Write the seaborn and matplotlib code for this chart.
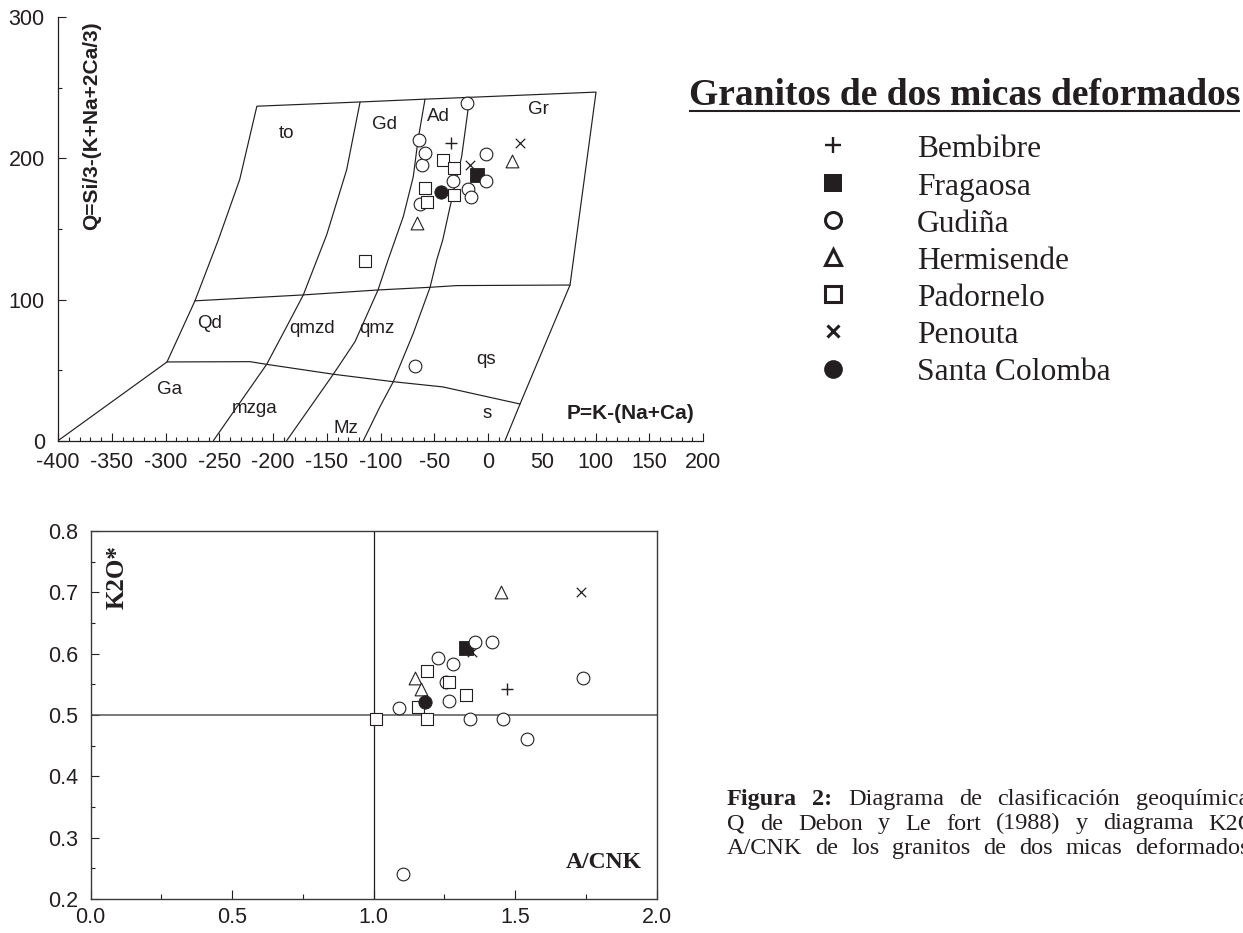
import matplotlib
matplotlib.use("Agg")
import matplotlib.pyplot as plt
import numpy as np
import pandas as pd
import seaborn as sns
from matplotlib.ticker import MultipleLocator, FormatStrFormatter

# ---------------------------------------------------------------------------
# P-Q classification diagram (Debon & Le Fort): field boundaries
# ---------------------------------------------------------------------------
frame_P = [-400, -298.6, -272.6, -251, -231, -215, -119, -58.6, -17, 100.5, 76.3, 29.8, 15.8]
frame_Q = [0, 55.8, 99.1, 142, 185, 237, 240.0, 242.0, 243.3, 247, 110.3, 26.0, 0]

line_a_P = [-119, -131.5, -150, -171.8, -187.3, -205.9, -255.5]
line_a_Q = [240.0, 191.9, 146, 103.3, 80.8, 54.1, 0]

line_b_P = [-58.6, -65.1, -69.5, -78.8, -93.0, -102.3, -123.7, -143.9, -187.3]
line_b_Q = [242.0, 213.1, 187.1, 158.8, 128.0, 106.8, 70.2, 47.1, 0]

line_c_P = [-17, -24.5, -35.3, -42.1, -47.7, -53.9, -69.5, -88.1, -100.5, -116.0]
line_c_Q = [243.3, 201.3, 165.8, 142.2, 128.1, 108.7, 76.1, 41.8, 24.1, 0]

mid_P = [-272.6, -171.8, -102.3, -53.9, -29.1, 76.3]
mid_Q = [99.1, 103.3, 106.8, 108.7, 109.9, 110.3]

low_P = [-298.6, -221.4, -205.9, -143.9, -88.1, -41.9, 29.8]
low_Q = [55.8, 56.0, 54.1, 47.1, 41.8, 38.1, 26.0]

field_names = ["to", "Gd", "Ad", "Gr", "Qd", "qmzd", "qmz", "qs", "Ga", "mzga", "Mz", "s"]
field_P = [-187, -96, -46, 47, -259, -164, -103.5, -2, -296.5, -216.7, -132, -1]
field_Q = [218, 224, 229.6, 235, 83.2, 79.2, 79.2, 57.7, 36.4, 23.0, 8.8, 19.4]

# ---------------------------------------------------------------------------
# Samples: P-Q values
# ---------------------------------------------------------------------------
bembibre_P = [-34]
bembibre_Q = [211]
fragaosa_P = [-10]
fragaosa_Q = [188]
gudina_P = [-61, -59, -64, -20, -2, -2, -63, -33, -19, -16, -68]
gudina_Q = [195, 204, 213, 239, 203, 184, 168, 184, 178, 173, 53]
hermisende_P = [22, -66]
hermisende_Q = [198, 154]
padornelo_P = [-42, -32, -59, -57, -32, -114]
padornelo_Q = [199, 193, 179, 169, 174, 127]
penouta_P = [-17, 30]
penouta_Q = [195, 211]
santa_colomba_P = [-44]
santa_colomba_Q = [176]

# Samples: K2O* versus A/CNK
bembibre_acnk = [1.472]
bembibre_k2o = [0.542]
fragaosa_acnk = [1.326]
fragaosa_k2o = [0.610]
gudina_acnk = [1.358, 1.419, 1.228, 1.281, 1.255, 1.267, 1.090, 1.340, 1.456, 1.541, 1.739, 1.102]
gudina_k2o = [0.619, 0.619, 0.593, 0.583, 0.553, 0.523, 0.512, 0.493, 0.493, 0.461, 0.561, 0.240]
hermisende_acnk = [1.450, 1.146, 1.166]
hermisende_k2o = [0.701, 0.560, 0.542]
padornelo_acnk = [1.189, 1.267, 1.326, 1.155, 1.008, 1.189]
padornelo_k2o = [0.572, 0.553, 0.533, 0.513, 0.493, 0.493]
penouta_acnk = [1.733, 1.346]
penouta_k2o = [0.701, 0.603]
santa_colomba_acnk = [1.181]
santa_colomba_k2o = [0.522]

groups = ["Bembibre", "Fragaosa", "Gudiña", "Hermisende", "Padornelo", "Penouta", "Santa Colomba"]

pq = {
    "Bembibre": (bembibre_P, bembibre_Q),
    "Fragaosa": (fragaosa_P, fragaosa_Q),
    "Gudiña": (gudina_P, gudina_Q),
    "Hermisende": (hermisende_P, hermisende_Q),
    "Padornelo": (padornelo_P, padornelo_Q),
    "Penouta": (penouta_P, penouta_Q),
    "Santa Colomba": (santa_colomba_P, santa_colomba_Q),
}
ak = {
    "Bembibre": (bembibre_acnk, bembibre_k2o),
    "Fragaosa": (fragaosa_acnk, fragaosa_k2o),
    "Gudiña": (gudina_acnk, gudina_k2o),
    "Hermisende": (hermisende_acnk, hermisende_k2o),
    "Padornelo": (padornelo_acnk, padornelo_k2o),
    "Penouta": (penouta_acnk, penouta_k2o),
    "Santa Colomba": (santa_colomba_acnk, santa_colomba_k2o),
}

# ---------------------------------------------------------------------------
# Styling
# ---------------------------------------------------------------------------
sns.set_theme(style="white")
SANS = ["Liberation Sans", "DejaVu Sans"]
SERIF = ["Liberation Serif", "DejaVu Serif"]
plt.rcParams["font.family"] = SANS
plt.rcParams["axes.unicode_minus"] = False
INK = "#231f20"

# marker look of each group in the plots
mark = {
    "Bembibre": dict(marker="+", s=74, color=INK, linewidth=1.0),
    "Fragaosa": dict(marker="s", s=88, color=INK, edgecolor=INK, linewidth=0.6),
    "Gudiña": dict(marker="o", s=84, color=INK, facecolor="white", edgecolor=INK, linewidth=0.8),
    "Hermisende": dict(marker="^", s=84, color=INK, facecolor="white", edgecolor=INK, linewidth=0.8),
    "Padornelo": dict(marker="s", s=84, color=INK, facecolor="white", edgecolor=INK, linewidth=0.8),
    "Penouta": dict(marker="x", s=46, color=INK, linewidth=0.9),
    "Santa Colomba": dict(marker="o", s=92, color=INK, edgecolor=INK, linewidth=0.6),
}
draw_order = ["Penouta", "Fragaosa", "Gudiña", "Hermisende", "Padornelo", "Santa Colomba", "Bembibre"]

# marker look of each group in the legend (Line2D style)
legend_mark = {
    "Bembibre": dict(marker="+", ms=12, mew=1.7, color=INK),
    "Fragaosa": dict(marker="s", ms=13, mew=0, color=INK),
    "Gudiña": dict(marker="o", ms=11.5, mew=2.2, mfc="white", mec=INK),
    "Hermisende": dict(marker="^", ms=12, mew=2.2, mfc="white", mec=INK),
    "Padornelo": dict(marker="s", ms=11.5, mew=2.2, mfc="white", mec=INK),
    "Penouta": dict(marker="x", ms=8, mew=2.2, color=INK),
    "Santa Colomba": dict(marker="o", ms=13.5, mew=0, color=INK),
}

W, H = 1243, 933
fig = plt.figure(figsize=(W / 100, H / 100), dpi=100)
fig.patch.set_facecolor("white")


def px_box(x0, y0, x1, y1):
    return [x0 / W, 1 - y1 / H, (x1 - x0) / W, (y1 - y0) / H]


ax1 = fig.add_axes(px_box(58, 17.3, 703, 440.7))
ax2 = fig.add_axes(px_box(90.7, 531, 656.7, 899))

# ---------------------------------------------------------------------------
# Upper panel: P-Q diagram
# ---------------------------------------------------------------------------
for xs, ys in [(frame_P, frame_Q), (line_a_P, line_a_Q), (line_b_P, line_b_Q),
               (line_c_P, line_c_Q), (mid_P, mid_Q), (low_P, low_Q)]:
    sns.lineplot(x=xs, y=ys, sort=False, estimator=None, ax=ax1,
                 color=INK, linewidth=0.85, zorder=2)

for name, p, q in zip(field_names, field_P, field_Q):
    ax1.text(p, q, name, ha="center", va="center", fontsize=13.5, color=INK)

for g in draw_order:
    df = pd.DataFrame({"P": pq[g][0], "Q": pq[g][1]})
    sns.scatterplot(data=df, x="P", y="Q", ax=ax1, zorder=3, legend=False, **mark[g])

ax1.set_xlim(-400, 200)
ax1.set_ylim(0, 300)
ax1.set_xlabel("")
ax1.set_ylabel("")
ax1.xaxis.set_major_locator(MultipleLocator(50))
ax1.xaxis.set_minor_locator(MultipleLocator(10))
ax1.yaxis.set_major_locator(MultipleLocator(100))
ax1.yaxis.set_minor_locator(MultipleLocator(50))
for side in ["top", "right"]:
    ax1.spines[side].set_visible(False)
for side in ["left", "bottom"]:
    ax1.spines[side].set_color(INK)
    ax1.spines[side].set_linewidth(0.9)
ax1.tick_params(axis="both", which="both", direction="in", color=INK, width=0.8,
                labelcolor=INK, labelsize=15.5, bottom=True, left=True,
                top=False, right=False)
ax1.tick_params(axis="x", which="major", length=5.5, pad=8)
ax1.tick_params(axis="x", which="minor", length=3)
ax1.tick_params(axis="y", which="major", length=6, pad=9.5)
ax1.tick_params(axis="y", which="minor", length=3)
ax1.set_facecolor("none")

ax1.text(0.0527, 0.743, "Q=Si/3-(K+Na+2Ca/3)", transform=ax1.transAxes, rotation=90,
         ha="center", va="center", fontsize=15, fontweight="bold", color=INK)
ax1.text(0.887, 0.065, "P=K-(Na+Ca)", transform=ax1.transAxes,
         ha="center", va="center", fontsize=15, fontweight="bold", color=INK)

# ---------------------------------------------------------------------------
# Lower panel: K2O* versus A/CNK
# ---------------------------------------------------------------------------
ax2.axvline(1.0, color=INK, linewidth=0.9, zorder=2)
ax2.axhline(0.5, color="#555555", linewidth=1.1, zorder=2)

for g in draw_order:
    df = pd.DataFrame({"A/CNK": ak[g][0], "K2O": ak[g][1]})
    sns.scatterplot(data=df, x="A/CNK", y="K2O", ax=ax2, zorder=3, legend=False, **mark[g])

ax2.set_xlim(0, 2.0)
ax2.set_ylim(0.2, 0.8)
ax2.set_xlabel("")
ax2.set_ylabel("")
ax2.xaxis.set_major_locator(MultipleLocator(0.5))
ax2.xaxis.set_minor_locator(MultipleLocator(0.25))
ax2.yaxis.set_major_locator(MultipleLocator(0.1))
ax2.yaxis.set_minor_locator(MultipleLocator(0.05))
ax2.xaxis.set_major_formatter(FormatStrFormatter("%.1f"))
ax2.yaxis.set_major_formatter(FormatStrFormatter("%.1f"))
for side in ["top", "right", "left", "bottom"]:
    ax2.spines[side].set_visible(True)
    ax2.spines[side].set_color("#3a3a3a")
    ax2.spines[side].set_linewidth(1.0)
ax2.tick_params(axis="both", which="both", direction="in", color=INK, width=0.8,
                labelcolor=INK, labelsize=15.5, bottom=True, left=True,
                top=False, right=False)
ax2.tick_params(axis="x", which="major", length=6.5, pad=5.5)
ax2.tick_params(axis="x", which="minor", length=3.6)
ax2.tick_params(axis="y", which="major", length=6, pad=9)
ax2.tick_params(axis="y", which="minor", length=3)
ax2.set_facecolor("white")

ax2.text(0.046, 0.876, "K2O*", transform=ax2.transAxes, rotation=90,
         ha="center", va="center", fontsize=18, fontweight="bold", family=SERIF, color=INK)
ax2.text(0.907, 0.099, "A/CNK", transform=ax2.transAxes,
         ha="center", va="center", fontsize=17, fontweight="bold", family=SERIF, color=INK)

# ---------------------------------------------------------------------------
# Title, legend and caption on a pixel-based overlay
# ---------------------------------------------------------------------------
ov = fig.add_axes([0, 0, 1, 1])
ov.set_xlim(0, W)
ov.set_ylim(H, 0)
ov.set_axis_off()
renderer = fig.canvas.get_renderer()

title = ov.text(689, 105, "Granitos de dos micas deformados", family=SERIF,
                fontweight="bold", fontsize=27, color=INK, ha="left", va="baseline")
tb = title.get_window_extent(renderer)
ov.plot([tb.x0, tb.x1], [110.8, 110.8], color=INK, linewidth=1.5, solid_capstyle="butt")

row0, row_step = 157.3, 37.2
for i, g in enumerate(groups):
    base = row0 + i * row_step
    ov.plot([833], [base - 12], linestyle="none", **legend_mark[g])
    ov.text(917, base, g, family=SERIF, fontsize=22.7, color=INK, ha="left", va="baseline")

# justified caption, running past the right edge of the sheet
caption_lines = [
    [("Figura", True), ("2:", True), ("Diagrama", False), ("de", False),
     ("clasificación", False), ("geoquímica", False)],
    [(w, False) for w in "Q de Debon y Le fort (1988) y diagrama K2O".split()],
    [(w, False) for w in "A/CNK de los granitos de dos micas deformados".split()],
]
cap_left = 727
cap_right = [1249, 1256, 1250]
cap_base, cap_step = 805, 24.5
for li, words in enumerate(caption_lines):
    y = cap_base + li * cap_step
    items = [ov.text(0, y, w, family=SERIF, fontsize=17.5, color=INK,
                     fontweight="bold" if b else "normal", ha="left", va="baseline")
             for w, b in words]
    widths = [t.get_window_extent(renderer).width for t in items]
    gap = (cap_right[li] - cap_left - sum(widths)) / (len(items) - 1)
    x = cap_left
    for t, w in zip(items, widths):
        t.set_x(x)
        x += w + gap

fig.savefig("out.png", dpi=100, facecolor="white")
